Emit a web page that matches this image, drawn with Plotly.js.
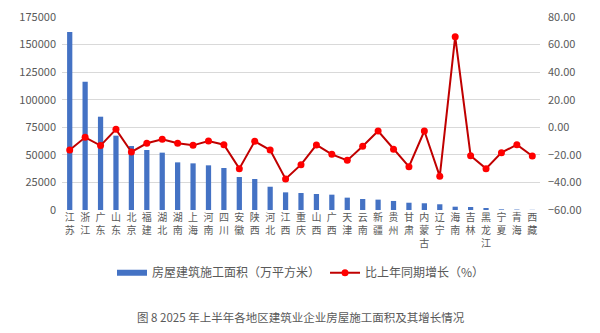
<!DOCTYPE html>
<html>
<head>
<meta charset="utf-8">
<script src="https://cdn.plot.ly/plotly-3.0.1.min.js"></script>
<style>html,body{margin:0;padding:0;background:#fff;}#chart{width:600px;height:333px;}</style>
</head>
<body>
<div id="chart"></div>
<script>
const regions = ["江苏","浙江","广东","山东","北京","福建","湖北","湖南","上海","河南","四川","安徽","陕西","河北","江西","重庆","山西","广西","天津","云南","新疆","贵州","甘肃","内蒙古","辽宁","海南","吉林","黑龙江","宁夏","青海","西藏"];
const area = [161400,116300,84600,67400,58000,54400,52000,43200,42300,40500,38100,29900,28100,21100,16000,15400,14500,13900,11200,10000,9400,8200,6600,6100,5200,3000,2700,1800,600,400,150];
const growth = [-16.5,-7.3,-13.3,-1.5,-17.9,-11.6,-8.7,-11.6,-13.1,-10.0,-12.6,-30.0,-10.2,-16.5,-37.5,-27.1,-12.8,-19.6,-24.0,-13.8,-2.7,-16.0,-28.6,-2.7,-35.6,65.7,-20.6,-30.0,-18.4,-12.6,-20.8];
const barName = "房屋建筑施工面积（万平方米）";
const lineName = "比上年同期增长（%）";
const caption = "图 8 2025 年上半年各地区建筑业企业房屋施工面积及其增长情况";

const tickText = regions.map(r => r.split("").join("<br>"));
const font = "Noto Sans CJK SC, Microsoft YaHei, sans-serif";

const data = [
  {type:"bar", x:regions, y:area, name:barName, marker:{color:"#4472C4"}, yaxis:"y", showlegend:false},
  {type:"scatter", mode:"lines", x:[null], y:[null], name:barName, line:{color:"#4472C4", width:6}, yaxis:"y", showlegend:true},
  {type:"scatter", mode:"lines+markers", x:regions, y:growth, name:lineName, yaxis:"y2",
   line:{color:"#C00000", width:2}, marker:{color:"#FF0000", size:7}}
];
const layout = {
  width:600, height:333,
  margin:{l:62, r:60, t:17, b:123},
  paper_bgcolor:"#fff", plot_bgcolor:"#fff",
  font:{family:font, color:"#595959", size:11},
  showlegend:true,
  legend:{orientation:"h", x:0.5, xanchor:"center", y:-0.25, yanchor:"top", font:{size:12, color:"#595959"}, traceorder:"normal"},
  bargap:0.66,
  xaxis:{automargin:false, type:"category", range:[-0.5, regions.length-0.5], autorange:false, tickmode:"array", tickvals:regions, ticktext:tickText, tickangle:0, tickfont:{size:10, color:"#595959"}, showgrid:false, showline:false, ticks:"", zeroline:false},
  yaxis:{automargin:false, range:[0,175000], dtick:25000, tickformat:"d", showgrid:true, gridcolor:"#D9D9D9", zeroline:false, showline:false, tickfont:{size:11, color:"#595959"}, ticks:"", ticklabelstandoff:5},
  yaxis2:{automargin:false, overlaying:"y", side:"right", range:[-60,80], dtick:20, tickformat:".2f", showgrid:false, zeroline:false, showline:false, tickfont:{size:11, color:"#595959"}, ticklabelstandoff:7},
  annotations:[{text:caption, xref:"paper", yref:"paper", x:0.5, y:-0.552, xanchor:"center", yanchor:"middle", showarrow:false, font:{size:11.5, color:"#595959", family:font}}]
};
Plotly.newPlot("chart", data, layout, {displayModeBar:false, staticPlot:true});
</script>
</body>
</html>
